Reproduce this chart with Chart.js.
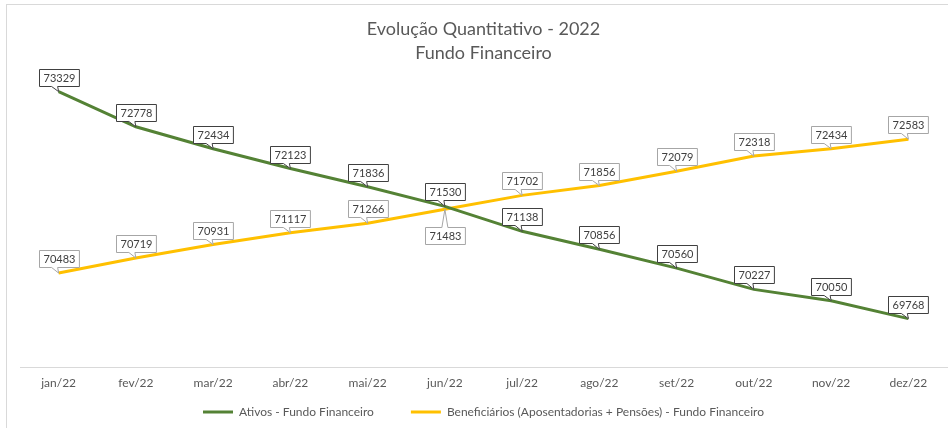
<!DOCTYPE html>
<html><head><meta charset="utf-8">
<script src="https://cdn.jsdelivr.net/npm/chart.js@4"></script>
<style>
html,body{margin:0;padding:0;background:#fff;}
#wrap{position:relative;width:948px;height:428px;overflow:hidden;}
#frame{position:absolute;left:6px;top:4px;width:960px;height:440px;border:1px solid #d9d9d9;box-sizing:border-box;}
canvas{position:absolute;left:0;top:0;}
</style></head>
<body>
<div id="wrap"><div id="frame"></div><canvas id="c" width="948" height="428"></canvas></div>
<script>
const categories = ['jan/22','fev/22','mar/22','abr/22','mai/22','jun/22','jul/22','ago/22','set/22','out/22','nov/22','dez/22'];
const ativos = [73329,72778,72434,72123,71836,71530,71138,70856,70560,70227,70050,69768];
const beneficiarios = [70483,70719,70931,71117,71266,71483,71702,71856,72079,72318,72434,72583];
const seriesNames = ['Ativos - Fundo Financeiro','Beneficiários (Aposentadorias + Pensões) - Fundo Financeiro'];
const titleLines = ['Evolução Quantitativo - 2022','Fundo Financeiro'];
const FONT = "Lato, 'Open Sans', sans-serif";
const LEGEND_SHIFT = 29;

const calloutPlugin = {
  id: 'callouts',
  afterLayout(chart) {
    const lg = chart.legend;
    if (lg) { lg.top -= LEGEND_SHIFT; lg.bottom -= LEGEND_SHIFT; }
  },
  afterDatasetsDraw(chart) {
    const ctx = chart.ctx;
    ctx.save();
    ctx.font = '11px ' + FONT;
    chart.data.datasets.forEach((ds, di) => {
      const meta = chart.getDatasetMeta(di);
      meta.data.forEach((pt, i) => {
        const txt = String(ds.data[i]);
        const w = ctx.measureText(txt).width + 8;
        const h = 17;
        const below = (di === 1 && i === 5);
        const px = pt.x, py = pt.y;
        const x0 = Math.round(px - w/2) + 0.5;
        let y0;
        if (below) y0 = Math.round(py + 18) + 0.5; else y0 = Math.round(py - 6 - h) + 0.5;
        ctx.beginPath();
        if (!below) {
          ctx.moveTo(x0, y0);
          ctx.lineTo(x0 + w, y0);
          ctx.lineTo(x0 + w, y0 + h);
          ctx.lineTo(px - 1, y0 + h);
          ctx.lineTo(px, py);
          ctx.lineTo(px - 7, y0 + h);
          ctx.lineTo(x0, y0 + h);
          ctx.closePath();
        } else {
          ctx.moveTo(x0, y0);
          ctx.lineTo(px - 3, y0);
          ctx.lineTo(px, py);
          ctx.lineTo(px + 3, y0);
          ctx.lineTo(x0 + w, y0);
          ctx.lineTo(x0 + w, y0 + h);
          ctx.lineTo(x0, y0 + h);
          ctx.closePath();
        }
        ctx.fillStyle = '#ffffff';
        ctx.fill();
        ctx.lineWidth = 1;
        ctx.strokeStyle = di === 0 ? '#404040' : '#a6a6a6';
        ctx.stroke();
        ctx.fillStyle = '#404040';
        ctx.textAlign = 'center';
        ctx.textBaseline = 'middle';
        ctx.fillText(txt, x0 + w/2, y0 + h/2 + 0.5);
      });
    });
    ctx.restore();
  }
};

new Chart(document.getElementById('c'), {
  type: 'line',
  data: {
    labels: categories,
    datasets: [
      { label: seriesNames[0], data: ativos, borderColor: '#548235', backgroundColor: '#548235', borderWidth: 3, pointRadius: 0, tension: 0 },
      { label: seriesNames[1], data: beneficiarios, borderColor: '#ffc000', backgroundColor: '#ffc000', borderWidth: 3, pointRadius: 0, tension: 0 }
    ]
  },
  options: {
    responsive: false,
    animation: false,
    layout: { padding: { left: 20, right: 1, top: 0, bottom: -LEGEND_SHIFT } },
    plugins: {
      title: { display: true, text: titleLines, color: '#595959', font: { family: FONT, size: 18, weight: 'normal', lineHeight: 1.33 }, padding: { top: 17.5, bottom: -16.5 } },
      legend: {
        position: 'bottom',
        labels: {
          color: '#595959',
          font: { family: FONT, size: 12 },
          boxWidth: 30, boxHeight: 3, padding: 37,
          generateLabels(chart) {
            return Chart.defaults.plugins.legend.labels.generateLabels(chart).map(l => { l.lineWidth = 0; l.fillStyle = chart.data.datasets[l.datasetIndex].borderColor; return l; });
          }
        }
      },
      tooltip: { enabled: false }
    },
    scales: {
      y: { display: false, min: 69000, max: 74000 },
      x: {
        offset: true,
        grid: { display: false, drawTicks: false },
        border: { display: true, color: '#d9d9d9' },
        ticks: { color: '#595959', font: { family: FONT, size: 12 }, padding: 8, maxRotation: 0 }
      }
    }
  },
  plugins: [calloutPlugin]
});
</script>
</body></html>
